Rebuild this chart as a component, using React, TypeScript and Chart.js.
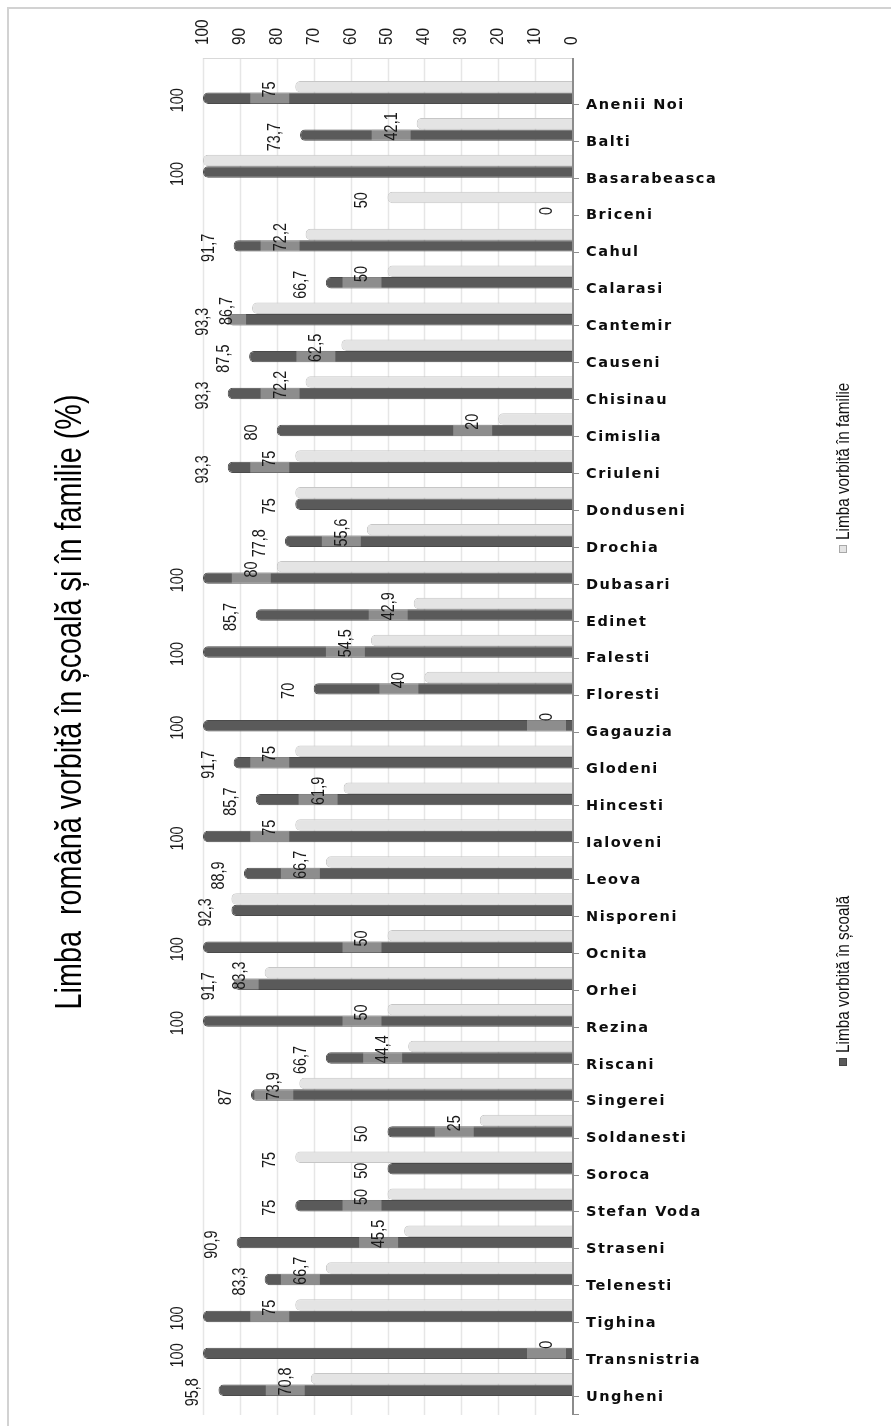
import React, { useEffect, useRef } from "react";
import { Chart, registerables } from "chart.js";

Chart.register(...registerables);

const categories = [
  "Anenii Noi", "Balti", "Basarabeasca", "Briceni", "Cahul", "Calarasi", "Cantemir",
  "Causeni", "Chisinau", "Cimislia", "Criuleni", "Donduseni", "Drochia", "Dubasari",
  "Edinet", "Falesti", "Floresti", "Gagauzia", "Glodeni", "Hincesti", "Ialoveni",
  "Leova", "Nisporeni", "Ocnita", "Orhei", "Rezina", "Riscani", "Singerei",
  "Soldanesti", "Soroca", "Stefan Voda", "Straseni", "Telenesti", "Tighina",
  "Transnistria", "Ungheni",
];

const scoala = [
  100, 73.7, 100, 0, 91.7, 66.7, 93.3, 87.5, 93.3, 80, 93.3, 75, 77.8, 100, 85.7, 100,
  70, 100, 91.7, 85.7, 100, 88.9, 92.3, 100, 91.7, 100, 66.7, 87, 50, 50, 75, 90.9,
  83.3, 100, 100, 95.8,
];

const familie = [
  75, 42.1, 100, 50, 72.2, 50, 86.7, 62.5, 72.2, 20, 75, 75, 55.6, 80, 42.9, 54.5,
  40, 0, 75, 61.9, 75, 66.7, 92.3, 50, 83.3, 50, 44.4, 73.9, 25, 75, 50, 45.5,
  66.7, 75, 0, 70.8,
];

const valueTicks = [0, 10, 20, 30, 40, 50, 60, 70, 80, 90, 100];

const seriesNames = ["Limba vorbită în familie", "Limba vorbită în școală"];
const chartTitle = "Limba  română vorbită în școală și în familie (%)";

const W = 891;
const H = 1426;
const PLOT_TOP = 58;
const PLOT_BOTTOM = 1415;

const LIGHT = "#e4e4e4";
const LIGHT_BORDER = "#c6c6c6";
const DARK = "#5a5a5a";
const DARK_BORDER = "#4a4a4a";
const NUM_FONT = "18px 'Liberation Sans', Arial, sans-serif";
const NUM_SX = 0.8;

const fmt = (v: number) => String(v).replace(".", ",");

function rotText(
  ctx: CanvasRenderingContext2D,
  text: string,
  x: number,
  y: number,
  font: string,
  color: string,
  align: CanvasTextAlign,
  scaleX = 1,
  targetLen?: number
) {
  ctx.save();
  ctx.translate(x, y);
  ctx.rotate(-Math.PI / 2);
  ctx.font = font;
  let sx = scaleX;
  if (targetLen) {
    const w = ctx.measureText(text).width;
    sx = targetLen / w;
  }
  ctx.scale(sx, 1);
  ctx.fillStyle = color;
  ctx.textAlign = align;
  ctx.textBaseline = "middle";
  ctx.fillText(text, 0, 0);
  ctx.restore();
}

const decor = {
  id: "decor",
  beforeDatasetsDraw(chart: any) {
    const { ctx } = chart;
    const xs = chart.scales.x;
    ctx.save();
    // outer frame
    ctx.strokeStyle = "#d2d2d2";
    ctx.lineWidth = 2;
    ctx.beginPath();
    ctx.moveTo(8, H);
    ctx.lineTo(8, 8);
    ctx.lineTo(W, 8);
    ctx.stroke();
    // grid lines
    ctx.strokeStyle = "#e6e6e6";
    ctx.lineWidth = 1.5;
    valueTicks.forEach((v) => {
      if (v === 0) return;
      const px = Math.round(xs.getPixelForValue(v)) + 0.5;
      ctx.beginPath();
      ctx.moveTo(px, PLOT_TOP);
      ctx.lineTo(px, PLOT_BOTTOM);
      ctx.stroke();
    });
    // top axis line
    ctx.strokeStyle = "#d9d9d9";
    ctx.lineWidth = 1;
    ctx.beginPath();
    ctx.moveTo(xs.getPixelForValue(100), PLOT_TOP + 0.5);
    ctx.lineTo(xs.getPixelForValue(0), PLOT_TOP + 0.5);
    ctx.stroke();
    ctx.restore();
  },
  afterDatasetsDraw(chart: any) {
    const { ctx } = chart;
    const xs = chart.scales.x;
    const metaF = chart.getDatasetMeta(0);
    const metaS = chart.getDatasetMeta(1);
    const x0 = xs.getPixelForValue(0);
    ctx.save();

    // value axis line
    ctx.strokeStyle = "#8c8c8c";
    ctx.lineWidth = 2;
    ctx.beginPath();
    ctx.moveTo(x0 + 1, PLOT_TOP);
    ctx.lineTo(x0 + 1, PLOT_BOTTOM);
    ctx.stroke();

    // value tick labels (top)
    valueTicks.forEach((v) => {
      rotText(ctx, String(v), xs.getPixelForValue(v), 45, NUM_FONT, "#1a1a1a", "left", 0.85);
    });

    // category ticks + labels
    categories.forEach((c, i) => {
      const el = metaS.data[i];
      const ly = el.y + el.height / 2;
      ctx.strokeStyle = "#8c8c8c";
      ctx.lineWidth = 1;
      ctx.beginPath();
      ctx.moveTo(x0 + 1, Math.round(ly) + 0.5);
      ctx.lineTo(x0 + 7, Math.round(ly) + 0.5);
      ctx.stroke();
      ctx.save();
      ctx.font = "bold 14.5px 'DejaVu Sans', Verdana, sans-serif";
      (ctx as any).letterSpacing = "1.5px";
      ctx.fillStyle = "#0d0d0d";
      ctx.textAlign = "left";
      ctx.textBaseline = "middle";
      ctx.fillText(c, 586, ly + 1);
      ctx.restore();
    });
    ctx.strokeStyle = "#8c8c8c";
    ctx.beginPath();
    ctx.moveTo(x0 + 1, PLOT_BOTTOM - 0.5);
    ctx.lineTo(x0 + 7, PLOT_BOTTOM - 0.5);
    ctx.stroke();

    // data labels
    categories.forEach((_, i) => {
      const s = metaS.data[i];
      const f = metaF.data[i];
      const boundary = s.y - s.height / 2;
      if (familie[i] !== scoala[i]) {
        const xe = f.x;
        // translucent label box, only where the school bar lies beneath
        const bl = Math.max(xe - 45, s.x);
        const br = xe - 6;
        if (br > bl) {
          ctx.fillStyle = "rgba(205,205,205,0.45)";
          ctx.fillRect(bl, boundary, br - bl, 11);
        }
        rotText(ctx, fmt(familie[i]), xe - 25, boundary - 3, NUM_FONT, "#1a1a1a", "center", NUM_SX);
      }
      rotText(ctx, fmt(scoala[i]), s.x - 25, s.y + 2, NUM_FONT, "#1a1a1a", "center", NUM_SX);
    });

    // title
    rotText(
      ctx,
      chartTitle,
      71,
      702,
      "36px 'Liberation Sans', Arial, sans-serif",
      "#000",
      "center",
      1,
      615
    );

    // legend
    const legend = [
      { y: 549, fill: LIGHT, stroke: "#a8a8a8" },
      { y: 1062, fill: DARK, stroke: "#444" },
    ];
    legend.forEach((l, k) => {
      ctx.fillStyle = l.fill;
      ctx.fillRect(839, l.y - 4, 8, 8);
      ctx.strokeStyle = l.stroke;
      ctx.lineWidth = 1;
      ctx.strokeRect(839.5, l.y - 3.5, 7, 7);
      rotText(ctx, seriesNames[k], 844, l.y - 9, "18px 'Liberation Sans', Arial, sans-serif", "#111", "left", 0.85);
    });

    ctx.restore();
  },
};

export default function App() {
  const ref = useRef<HTMLCanvasElement | null>(null);

  useEffect(() => {
    if (!ref.current) return;
    const chart = new Chart(ref.current, {
      type: "bar",
      data: {
        labels: categories,
        datasets: [
          {
            label: seriesNames[0],
            data: familie,
            backgroundColor: LIGHT,
            borderColor: LIGHT_BORDER,
            borderWidth: 1,
            borderRadius: 5,
            borderSkipped: "start",
            barPercentage: 1,
            categoryPercentage: 0.623,
          },
          {
            label: seriesNames[1],
            data: scoala,
            backgroundColor: DARK,
            borderColor: DARK_BORDER,
            borderWidth: 1,
            borderRadius: 5,
            borderSkipped: "start",
            barPercentage: 1,
            categoryPercentage: 0.623,
          },
        ],
      },
      options: {
        indexAxis: "y",
        responsive: false,
        animation: false,
        layout: { padding: { left: 203, right: W - 572, top: 74, bottom: H - 1403 } },
        scales: {
          x: { type: "linear", min: 0, max: 100, reverse: true, display: false },
          y: { type: "category", display: false, offset: true },
        },
        plugins: {
          legend: { display: false },
          tooltip: { enabled: false },
        },
      },
      plugins: [decor],
    });
    return () => chart.destroy();
  }, []);

  return (
    <div style={{ position: "absolute", left: 0, top: 0, width: W, height: H, background: "#fff" }}>
      <canvas ref={ref} width={W} height={H} style={{ display: "block", width: W, height: H }} />
    </div>
  );
}
